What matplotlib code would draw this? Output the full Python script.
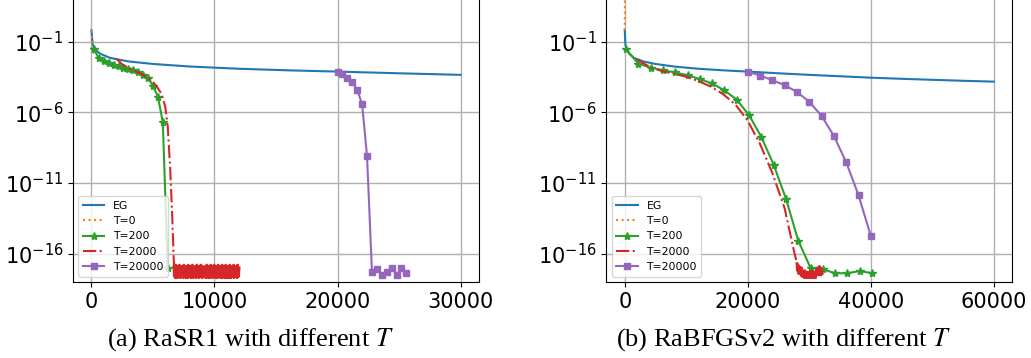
import numpy as np
import matplotlib
matplotlib.use("agg")
import matplotlib.pyplot as plt

# ---- data (log10 of the plotted values) ----
# EG baseline, same in both panels
eg_x = [0, 100, 300, 700, 1500, 3000, 5000, 8000, 12000, 16000, 20000, 25000, 30000,
        35000, 40000, 45000, 50000, 55000, 60000]
eg_log = [-0.2, -1.2, -1.55, -1.85, -2.15, -2.4, -2.58, -2.76, -2.92, -3.03, -3.12, -3.24, -3.35,
          -3.45, -3.55, -3.63, -3.7, -3.77, -3.83]

# (a) RaSR1
a_t0_x = [0, 20, 50, 100, 150, 200]
a_t0_log = [-0.2, -0.6, -1.0, -1.4, -1.7, -1.85]

a_t200_x = np.arange(200, 6201, 400)
a_t200_log = [-1.54, -2.17, -2.34, -2.48, -2.62, -2.72, -2.84, -2.93, -3.02, -3.17, -3.35,
              -3.55, -4.13, -4.89, -6.7, -17.0]

a_t2000_x = [2000, 2500, 3000, 3500, 4000, 4500, 5000, 5400, 5700, 6000, 6200, 6400, 6550, 6650, 6700]
a_t2000_log = [-2.2, -2.6, -2.85, -3.05, -3.25, -3.5, -3.85, -4.3, -4.7, -5.6, -7.0, -10.0, -13.0, -15.5, -16.8]
a_noise_range = (6700, 12000)
a_noise_log = [-16.9, -17.6, -17.0, -17.7, -16.8, -17.5, -17.1, -17.7, -16.9, -17.4, -17.6, -16.8,
               -17.3, -17.7, -17.0, -17.6, -16.9, -17.5, -17.2, -17.7, -16.8, -17.6, -17.0, -17.4,
               -17.7, -16.9, -17.5, -17.1, -17.7, -16.8, -17.6, -17.2, -17.5, -16.9, -17.7, -17.0,
               -17.6, -16.8, -17.4, -17.7, -17.0, -17.5, -16.9, -17.6, -17.2, -17.7, -16.8, -17.5,
               -17.0, -17.6, -16.9, -17.7, -17.1, -17.5, -16.8, -17.6, -17.0, -17.7, -16.9, -17.4,
               -17.6, -17.0, -17.5, -16.9, -17.7, -17.2, -16.8, -17.6, -17.1, -17.7, -16.9, -17.5,
               -17.0, -17.7, -16.8, -17.4, -17.6, -16.9, -17.7, -17.1, -17.6, -16.8, -17.5, -17.0,
               -17.7, -16.9, -17.6, -17.2, -17.7, -16.8, -17.5, -17.0, -17.6, -16.9, -17.7, -17.1,
               -17.5, -16.8, -17.7, -17.0, -17.6, -16.9, -17.4, -17.7, -16.8, -17.6, -17.1, -17.7,
               -16.9, -17.5, -17.0, -17.7, -16.8, -17.6, -17.2, -17.7, -16.9, -17.5, -17.0, -17.6,
               -16.8, -17.7, -17.1, -17.5, -16.9, -17.6, -17.0, -17.7, -16.8, -17.4, -17.6, -17.0]

a_t20000_x = np.arange(20000, 25601, 400)
a_t20000_log = [-3.12, -3.28, -3.59, -3.87, -4.42, -5.43, -9.11, -17.27, -17.05, -17.5, -17.27,
                -16.98, -17.5, -17.03, -17.34]

# (b) RaBFGSv2
b_t0_x = [0, 10, 20, 30, 40, 50]
b_t0_log = [-0.2, 0.5, 1.2, 2.0, 3.0, 4.0]

b_t200_x = np.arange(200, 40201, 2000)
b_t200_log = [-1.54, -2.55, -2.84, -3.03, -3.18, -3.38, -3.65, -3.96, -4.45, -5.1, -6.2, -7.74,
              -9.7, -12.1, -15.07, -17.0, -17.1, -17.38, -17.38, -17.22, -17.38]

b_t2000_x = [2000, 4000, 6000, 8000, 10000, 12000, 14000, 16000, 18000, 20000, 22000, 24000,
             26000, 27400, 28000]
b_t2000_log = [-2.25, -2.78, -3.08, -3.27, -3.48, -3.8, -4.18, -4.72, -5.45, -6.6, -8.25, -10.3,
               -12.8, -15.6, -16.7]
b_noise_range = (28000, 32100)
b_noise_log = [-16.7, -17.2, -16.8, -17.4, -16.9, -17.3, -17.1, -17.5, -17.0, -17.6, -17.2, -17.5,
               -17.3, -17.7, -17.2, -17.6, -17.4, -17.7, -17.3, -17.6, -17.5, -17.7, -17.3, -17.6,
               -17.4, -17.7, -17.2, -17.6, -17.5, -17.7, -17.3, -17.6, -17.4, -17.7, -17.2, -17.5,
               -17.0, -17.4, -17.1, -17.5, -16.9, -17.4, -17.0, -17.5, -17.1, -17.4]

b_t20000_x = np.arange(20000, 40001, 2000)
b_t20000_log = [-3.12, -3.4, -3.73, -4.08, -4.56, -5.26, -6.25, -7.67, -9.53, -11.86, -14.74]

labels = ["EG", "T=0", "T=200", "T=2000", "T=20000"]
captions = ["(a) RaSR1 with different $T$", "(b) RaBFGSv2 with different $T$"]

plt.rcParams.update({"font.size": 15})
W, H = 1031, 358
fig = plt.figure(figsize=(W / 100, H / 100), dpi=100)

def p(v):
    return 10.0 ** np.asarray(v, dtype=float)

def panel(rect, egmax, t0, t200, t2000, noise, t20000, xlim, xticks):
    ax = fig.add_axes(rect)
    n = eg_x.index(egmax) + 1
    ax.plot(eg_x[:n], p(eg_log[:n]), color="C0", lw=1.5, label=labels[0])
    ax.plot(t0[0], p(t0[1]), color="C1", ls=":", lw=1.5, label=labels[1])
    ax.plot(t200[0], p(t200[1]), color="C2", lw=1.5, marker="*", ms=6, label=labels[2])
    nx = np.linspace(noise[0][0], noise[0][1], len(noise[1]))
    rx = list(t2000[0]) + list(nx)
    ry = list(t2000[1]) + list(noise[1])
    ax.plot(rx, p(ry), color="C3", ls="-.", lw=1.5, label=labels[3])
    ax.plot(nx, p(noise[1]), color="C3", ls="-", lw=2.0)
    ax.plot(t20000[0], p(t20000[1]), color="C4", lw=1.5, marker="s", ms=5, label=labels[4])
    ax.set_yscale("log")
    ax.set_ylim(1e-18, 1e4)
    ax.set_xlim(*xlim)
    ax.set_yticks([1e-16, 1e-11, 1e-6, 1e-1])
    ax.minorticks_off()
    ax.set_xticks(xticks)
    ax.grid(True, color="#b0b0b0", lw=1.0)
    ax.legend(loc="lower left", fontsize=7.8)
    return ax

ybot = 76 / H
yh = 22 * 14.14 / H
panel([73 / W, ybot, 406 / W, yh], 30000,
      (a_t0_x, a_t0_log), (a_t200_x, a_t200_log), (a_t2000_x, a_t2000_log),
      (a_noise_range, a_noise_log), (a_t20000_x, a_t20000_log),
      (-1500, 31500), [0, 10000, 20000, 30000])
panel([606.3 / W, ybot, 406 / W, yh], 60000,
      (b_t0_x, b_t0_log), (b_t200_x, b_t200_log), (b_t2000_x, b_t2000_log),
      (b_noise_range, b_noise_log), (b_t20000_x, b_t20000_log),
      (-3000, 63000), [0, 20000, 40000, 60000])

fig.text(250 / W, 0.034, captions[0], ha="center", va="baseline", family="Liberation Serif",
         fontsize=19, math_fontfamily="stix")
fig.text(784 / W, 0.034, captions[1], ha="center", va="baseline", family="Liberation Serif",
         fontsize=19, math_fontfamily="stix")

fig.savefig("out.png", dpi=100)
